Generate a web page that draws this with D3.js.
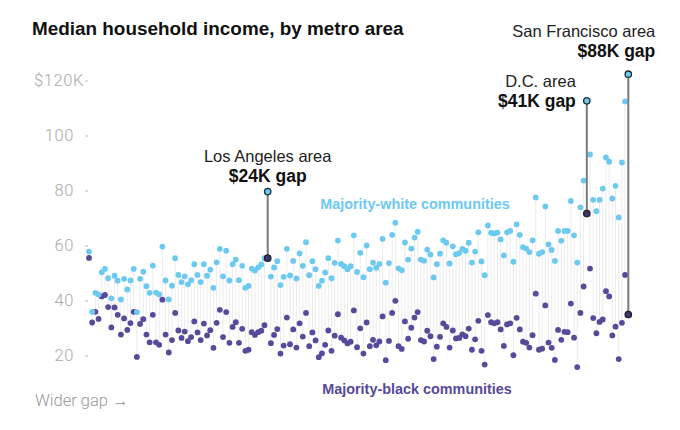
<!DOCTYPE html>
<html><head><meta charset="utf-8">
<script src="https://cdn.jsdelivr.net/npm/d3@7"></script>
<style>
body{margin:0;background:#fff;}
svg{display:block;}
</style></head><body>
<svg id="chart" width="680" height="430"></svg>
<script>
// Median household income (thousands of $) of majority-white and majority-black
// communities, one entry per metro area, ordered by the size of the gap.
const whiteIncome = [
 57.8,35.9,42.8,42.2,50.3,51.5,48.1,40.8,49.0,47.2,40.4,47.9,44.0,47.3,51.5,35.8,47.9,50.5,45.2,42.8,52.7,42.9,42.2,59.6,47.3,40.4,45.4,55.4,
 49.3,46.7,48.8,45.9,47.4,53.2,49.3,46.7,53.2,49.0,51.2,44.6,53.9,58.8,48.8,58.1,47.3,53.2,54.9,47.4,52.6,44.6,45.3,51.6,50.9,52.0,53.1,55.4,79.6,
 48.7,52.0,54.3,45.6,48.6,58.8,49.1,54.4,48.0,57.1,52.6,61.2,49.2,54.3,51.4,45.3,47.2,50.2,55.4,48.1,53.7,61.8,53.3,52.5,51.4,52.5,63.7,50.4,57.3,
 48.5,60.0,51.4,53.8,51.9,53.3,62.4,46.5,53.6,63.9,68.3,51.7,51.0,61.1,54.9,58.9,62.9,65.0,54.9,54.5,58.5,56.7,48.4,53.2,57.0,61.9,61.0,53.5,
 59.7,56.8,57.2,58.8,58.1,61.0,53.8,57.8,64.8,54.2,49.2,67.3,64.6,64.4,64.7,62.2,56.4,64.8,65.3,54.1,67.7,63.9,59.4,58.9,57.6,61.9,77.5,57.0,57.6,
 74.2,60.4,58.4,54.4,65.3,61.7,65.3,65.3,76.2,63.7,53.8,73.9,83.6,112.6,93.1,76.6,72.5,76.6,80.7,92.0,90.5,77.1,81.7,70.2,90.2,112.4,122.3
];
const blackIncome = [
 55.5,32.0,35.9,33.3,41.5,42.0,37.6,30.2,37.5,34.8,27.6,33.5,29.3,31.8,35.9,19.5,31.5,33.2,27.6,24.8,34.8,24.8,23.9,40.3,27.6,21.1,25.6,35.5,
 29.1,26.4,28.7,25.2,26.7,32.4,28.4,25.6,31.6,27.3,29.2,22.8,31.9,36.6,26.7,35.8,24.6,30.4,32.1,24.6,29.7,21.7,22.1,28.5,27.5,28.5,29.0,31.0,55.4,
 24.5,27.5,29.6,20.7,23.6,33.8,24.1,29.5,22.9,31.7,26.9,35.5,23.4,28.4,25.5,19.4,20.8,23.9,29.1,21.7,27.2,35.0,26.5,25.5,24.4,25.0,36.4,23.0,29.9,
 20.7,32.0,23.4,25.7,23.7,25.1,34.2,18.3,25.3,35.5,39.9,23.4,22.4,32.4,26.1,30.1,33.8,35.8,25.6,25.1,29.0,27.0,18.7,23.2,26.8,31.7,30.4,22.9,
 29.1,26.2,26.4,27.7,27.0,29.8,22.1,25.9,32.6,21.7,16.7,34.7,32.1,31.7,32.1,29.5,23.5,31.3,31.7,20.1,33.7,29.5,25.0,24.6,22.9,27.4,42.5,22.1,22.5,
 38.2,24.7,22.8,18.4,29.3,25.7,28.6,28.5,38.9,26.5,15.8,35.5,45.1,71.6,51.6,33.6,28.1,32.2,33.1,43.4,41.5,27.3,30.5,18.7,31.9,49.3,34.9
];
const tickValues = [20, 40, 60, 80, 100, 120];
const tickLabels = ["20", "40", "60", "80", "100", "$120K"];
const highlightIndex = [56, 156, 169];
const highlightName = ["Los Angeles area", "D.C. area", "San Francisco area"];
const highlightGap = ["$24K gap", "$41K gap", "$88K gap"];

const W_COLOR = "#6ccaf0", B_COLOR = "#564a9a";
const svg = d3.select("#chart");
const n = whiteIncome.length;
const x = d3.scalePoint().domain(d3.range(n)).range([89, 628.3]);
const y = d3.scaleLinear().domain([20, 120]).range([355.5, 80.5]);

const sans = "'Liberation Sans', Arial, sans-serif";
const light = "Roboto, 'Liberation Sans', sans-serif";

// title
svg.append("text").attr("x", 32).attr("y", 35)
  .attr("font-family", sans).attr("font-weight", 700).attr("font-size", 18.9)
  .attr("fill", "#111").text("Median household income, by metro area");

// y axis
const yAxis = d3.axisLeft(y).tickValues(tickValues).tickSize(3).tickPadding(11)
  .tickFormat((d, i) => tickLabels[i]);
const ga = svg.append("g").attr("transform", "translate(88,0)").call(yAxis);
ga.select(".domain").remove();
ga.selectAll(".tick line").attr("stroke", "#bbb");
ga.selectAll(".tick text").attr("fill", "#aaa").attr("font-family", light)
  .attr("font-weight", 300).attr("font-size", 16.5).attr("letter-spacing", 0.6);
ga.selectAll(".tick text").filter(d => d === 120).attr("x", -4);

const data = d3.range(n).map(i => ({i, w: whiteIncome[i], b: blackIncome[i]}));
const hl = new Set(highlightIndex);

// faint connectors
svg.append("g").selectAll("line").data(data.filter(d => !hl.has(d.i))).join("line")
  .attr("x1", d => x(d.i)).attr("x2", d => x(d.i))
  .attr("y1", d => y(d.w)).attr("y2", d => y(d.b))
  .attr("stroke", "#ebebeb").attr("stroke-width", 1);

const dots = svg.append("g");
dots.selectAll(".b").data(data.filter(d => !hl.has(d.i))).join("circle")
  .attr("cx", d => x(d.i)).attr("cy", d => y(d.b)).attr("r", 2.9).attr("fill", B_COLOR);
dots.selectAll(".w").data(data.filter(d => !hl.has(d.i))).join("circle")
  .attr("cx", d => x(d.i)).attr("cy", d => y(d.w)).attr("r", 2.9).attr("fill", W_COLOR);

// highlighted metros
const hdata = highlightIndex.map((idx, k) => ({i: idx, w: whiteIncome[idx], b: blackIncome[idx],
  name: highlightName[k], gap: highlightGap[k]}));
const hg = svg.append("g");
hg.selectAll("line").data(hdata).join("line")
  .attr("x1", d => x(d.i)).attr("x2", d => x(d.i))
  .attr("y1", d => y(d.w)).attr("y2", d => y(d.b))
  .attr("stroke", "#7a7a7a").attr("stroke-width", 2);
hg.selectAll(".hb").data(hdata).join("circle")
  .attr("cx", d => x(d.i)).attr("cy", d => y(d.b)).attr("r", 3.2)
  .attr("fill", "#3c3868").attr("stroke", "#1b1b2b").attr("stroke-width", 1.3);
hg.selectAll(".hw").data(hdata).join("circle")
  .attr("cx", d => x(d.i)).attr("cy", d => y(d.w)).attr("r", 3.2)
  .attr("fill", W_COLOR).attr("stroke", "#1b2b33").attr("stroke-width", 1.3);

// annotation labels
const anchors = ["middle", "end", "end"];
const dxs = [0, -11, 27];
const dys = [-30, -14, -37];
hdata.forEach((d, k) => {
  const ax = x(d.i) + dxs[k];
  const ay = y(d.w) + dys[k];
  svg.append("text").attr("x", ax).attr("y", ay)
    .attr("text-anchor", anchors[k]).attr("font-family", sans).attr("font-size", 16.5)
    .attr("fill", "#222").text(d.name);
  svg.append("text").attr("x", ax).attr("y", ay + 20)
    .attr("text-anchor", anchors[k]).attr("font-family", sans).attr("font-weight", 700)
    .attr("font-size", 17.5).attr("fill", "#111").text(d.gap);
});

// series labels
svg.append("text").attr("x", 415).attr("y", 209).attr("text-anchor", "middle")
  .attr("font-family", sans).attr("font-weight", 700).attr("font-size", 14.4)
  .attr("fill", W_COLOR).text("Majority-white communities");
svg.append("text").attr("x", 417).attr("y", 394).attr("text-anchor", "middle")
  .attr("font-family", sans).attr("font-weight", 700).attr("font-size", 14.4)
  .attr("fill", B_COLOR).text("Majority-black communities");

svg.append("text").attr("x", 35).attr("y", 406)
  .attr("font-family", light).attr("font-weight", 300).attr("font-size", 16.5)
  .attr("fill", "#999").text("Wider gap \u2192");
</script>
</body></html>
